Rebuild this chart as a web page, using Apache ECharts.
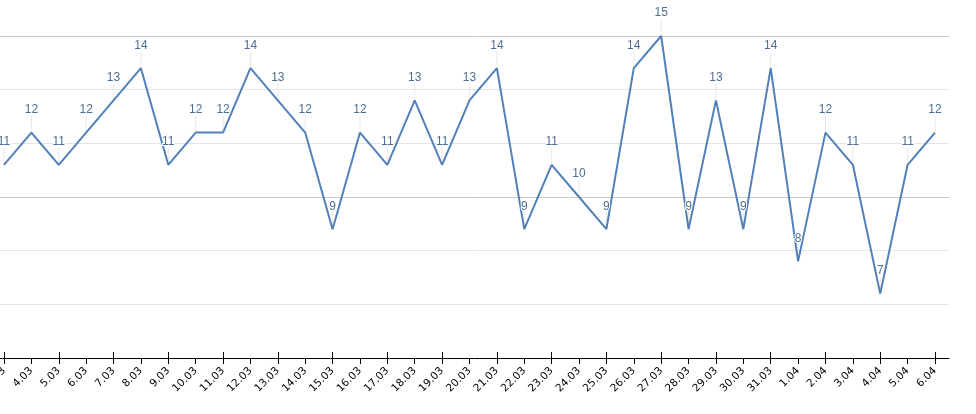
<!DOCTYPE html>
<html>
<head>
<meta charset="utf-8">
<script src="https://cdn.jsdelivr.net/npm/echarts@6/dist/echarts.min.js"></script>
<style>html,body{margin:0;padding:0;background:#fff}#c{width:976px;height:414px}</style>
</head>
<body>
<div id="c"></div>
<script>
const categories = ['3.03','4.03','5.03','6.03','7.03','8.03','9.03','10.03','11.03','12.03','13.03','14.03','15.03','16.03','17.03','18.03','19.03','20.03','21.03','22.03','23.03','24.03','25.03','26.03','27.03','28.03','29.03','30.03','31.03','1.04','2.04','3.04','4.04','5.04','6.04'];
const values = [11,12,11,12,13,14,11,12,12,14,13,12,9,12,11,13,11,13,14,9,11,10,9,14,15,9,13,9,14,8,12,11,7,11,12];
const yMin = 5, yMax = 15, yStep = 5;

const chart = echarts.init(document.getElementById('c'), null, {renderer: 'canvas'});
chart.setOption({
  animation: false,
  backgroundColor: '#fff',
  grid: [
    {left: 0, right: 27, top: 36, bottom: 56, containLabel: false, outerBoundsMode: 'none'},
    {left: 4, right: 41, top: 36, bottom: 56, containLabel: false, outerBoundsMode: 'none'}
  ],
  xAxis: [
    {gridIndex: 0, type: 'value', min: 0, max: 1, axisLine: {show: true, onZero: false, lineStyle: {color: '#000', width: 1}},
     axisTick: {show: false}, axisLabel: {show: false}, splitLine: {show: false}},
    {gridIndex: 1, type: 'category', data: categories, boundaryGap: false,
     axisLine: {show: false}, axisTick: {show: true, length: 6, lineStyle: {color: '#000'}},
     axisLabel: {rotate: 45, fontSize: 10.5, fontFamily: 'DejaVu Sans', color: '#000', margin: 11, interval: 0},
     splitLine: {show: false}},
    {gridIndex: 1, type: 'category', data: categories, boundaryGap: false, position: 'bottom',
     axisLine: {show: false}, axisTick: {show: true, inside: true, length: 6, lineStyle: {color: '#000'}},
     axisLabel: {show: false}, splitLine: {show: false}}
  ],
  yAxis: [
    {gridIndex: 0, type: 'value', min: yMin, max: yMax, interval: yStep,
     axisLine: {show: false}, axisTick: {show: false}, axisLabel: {show: false},
     splitLine: {show: true, lineStyle: {color: '#c8c8c8', width: 1}},
     minorTick: {show: false, splitNumber: 3},
     minorSplitLine: {show: true, lineStyle: {color: '#e4e4e4', width: 1}}},
    {gridIndex: 1, type: 'value', min: yMin, max: yMax, interval: yStep, show: false}
  ],
  series: [
    {
      type: 'custom', xAxisIndex: 1, yAxisIndex: 1, z: 1, silent: true,
      data: values.map((v, i) => [i, v]),
      renderItem: function (params, api) {
        const p = api.coord([api.value(0), api.value(1)]);
        return {type: 'line', shape: {x1: p[0], y1: p[1], x2: p[0], y2: p[1] - 17},
                style: {stroke: '#e8e8e8', lineWidth: 1}};
      }
    },
    {
      type: 'line', xAxisIndex: 1, yAxisIndex: 1, z: 3,
      data: values, showSymbol: true, symbol: 'circle', symbolSize: 0,
      itemStyle: {color: '#5280b8'},
      lineStyle: {color: '#5280b8', width: 2},
      label: {show: true, position: 'top', distance: 17, color: '#4d6e94', fontSize: 12,
              fontFamily: 'Liberation Sans', textBorderColor: '#fff', textBorderWidth: 2}
    }
  ]
});
</script>
</body>
</html>
